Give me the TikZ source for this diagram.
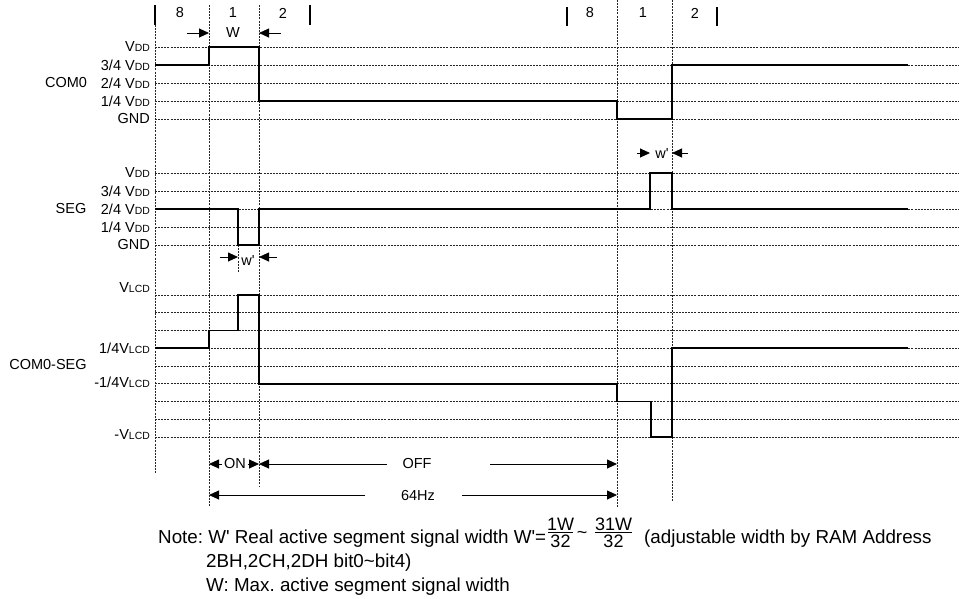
\documentclass[tikz,border=0pt]{standalone}
\usepackage{fontspec}
\setmainfont{Liberation Sans}
\usetikzlibrary{arrows.meta}
\newcommand{\sm}[1]{{\fontsize{10.4}{12}\selectfont #1}}
\newcommand{\sq}{\textquotesingle}
\frenchspacing
\begin{document}
\begin{tikzpicture}[x=1pt,y=-1pt,
  grid/.style={line width=0.8pt, black!85, dash pattern=on 2pt off 1.1pt},
  sig/.style={line width=1.8pt, line join=miter},
  bar/.style={line width=1.2pt},
  dim/.style={line width=0.9pt, -{Triangle[length=10pt,width=9pt]}},
  lab/.style={font=\fontsize{14.5}{16}\selectfont, inner sep=0pt},
  lv/.style={lab, anchor=east},
  note/.style={font=\fontsize{18.8}{22}\selectfont, inner sep=0pt, anchor=base west},
  fr/.style={font=\fontsize{18}{20}\selectfont, inner sep=0pt, anchor=base}]
\useasboundingbox (0,0) rectangle (959,598);

% vertical markers
\draw[bar] (155,5) -- (155,25);
\draw[grid] (155,25) -- (155,473);
\draw[grid] (209,5) -- (209,507);
\draw[grid] (259,5) -- (259,487);
\draw[bar] (310,5) -- (310,25);
\draw[bar] (567,7) -- (567,26);
\draw[grid] (617,0) -- (617,507);
\draw[grid] (672,0) -- (672,502);
\draw[bar] (717,7) -- (717,26);
\draw[grid] (238,245) -- (238,272);

% horizontal reference lines
\foreach \y in {47,65,83,101,119,173,191,209,227,245}
  \draw[grid] (155,\y) -- (958,\y);
\foreach \k in {0,...,8}
  \draw[grid] (155,295+17.75*\k) -- (958,295+17.75*\k);

% top numbers
\node[lab] (n8a) at (180,13) {8};
\node[lab] (n1a) at (233,13) {1};
\node[lab] (n2a) at (283,13) {2};
\node[lab] (n8b) at (590,13) {8};
\node[lab] (n1b) at (643,13) {1};
\node[lab] (n2b) at (695,13) {2};
\node[lab] (wtop) at (233,33) {W};
\coordinate (wl) at (187,33); \coordinate (wlt) at (209,33);
\coordinate (wr) at (281,33); \coordinate (wrt) at (259,33);
\draw[dim] (wl) -- (wlt);
\draw[dim] (wr) -- (wrt);

% COM0 labels
\node[lab] (com0) at (66,83) {COM0};
\node[lv] (c1) at (150,47) {V\sm{DD}};
\node[lv] (c2) at (150,65) {3/4 V\sm{DD}};
\node[lv] (c3) at (150,83) {2/4 V\sm{DD}};
\node[lv] (c4) at (150,101) {1/4 V\sm{DD}};
\node[lv] (c5) at (150,119) {GND};

% SEG labels
\node[lab] (seg) at (71,209) {SEG};
\node[lv] (s1) at (150,173) {V\sm{DD}};
\node[lv] (s2) at (150,191) {3/4 V\sm{DD}};
\node[lv] (s3) at (150,209) {2/4 V\sm{DD}};
\node[lv] (s4) at (150,227) {1/4 V\sm{DD}};
\node[lv] (s5) at (150,245) {GND};

% COM0-SEG labels
\node[lab] (cs) at (48,365) {COM0-SEG};
\node[lv] (v1) at (150,288) {V\sm{LCD}};
\node[lv] (v2) at (150,348) {1/4V\sm{LCD}};
\node[lv] (v3) at (150,382) {-1/4V\sm{LCD}};
\node[lv] (v4) at (150,435) {-V\sm{LCD}};

% signals
\draw[sig] (155,65) -- (209,65) -- (209,47) -- (259,47) -- (259,101) -- (617,101)
  -- (617,119) -- (672,119) -- (672,65) -- (908,65);
\draw[sig] (155,209) -- (238,209) -- (238,245) -- (259,245) -- (259,209) -- (650,209)
  -- (650,173) -- (672,173) -- (672,209) -- (908,209);
\draw[sig] (155,348.25) -- (209,348.25) -- (209,330.5) -- (238,330.5) -- (238,295)
  -- (259,295) -- (259,383.75) -- (617,383.75) -- (617,401.5) -- (651,401.5)
  -- (651,437) -- (672,437) -- (672,348.25) -- (908,348.25);

% w' markers
\node[lab] (wq1) at (248,261) {w\sq};
\draw[dim] (220,257) -- (238,257);
\draw[dim] (277,257) -- (259,257);
\node[lab] (wq2) at (662,154) {w\sq};
\draw[dim] (637,153) -- (650,153);
\draw[dim] (688,153) -- (672,153);

% ON / OFF / 64Hz
\node[lab, inner sep=1.5pt] (on) at (235,464) {ON};
\draw[dim] (on.west) -- (209,464);
\draw[dim] (on.east) -- (259,464);
\node[lab] (off) at (417,464) {OFF};
\draw[dim] (387,464) -- (259,464);
\draw[dim] (490,464) -- (617,464);
\node[lab] (hz) at (418,495) {64Hz};
\draw[dim] (365,495) -- (209,495);
\draw[dim] (462,495) -- (617,495);

% note
\node[note] (note1) at (158,543) {Note: W\sq{} Real active segment signal width W\sq=};
\node[fr] (f1n) at (560.5,530) {1W};
\node[fr] (f1d) at (560.5,547) {32};
\draw[line width=0.9pt] (548,532) -- (573,532);
\node[fr] (tl) at (582,538) {\textasciitilde};
\node[fr] (f2n) at (613.5,530) {31W};
\node[fr] (f2d) at (613.5,547) {32};
\draw[line width=0.9pt] (595,532) -- (632,532);
\node[note] (note2) at (644,543) {(adjustable width by RAM Address};
\node[note] (note3) at (206,567) {2BH,2CH,2DH bit0\textasciitilde bit4)};
\node[note] (note4) at (206,591) {W: Max. active segment signal width};
\end{tikzpicture}
\end{document}
